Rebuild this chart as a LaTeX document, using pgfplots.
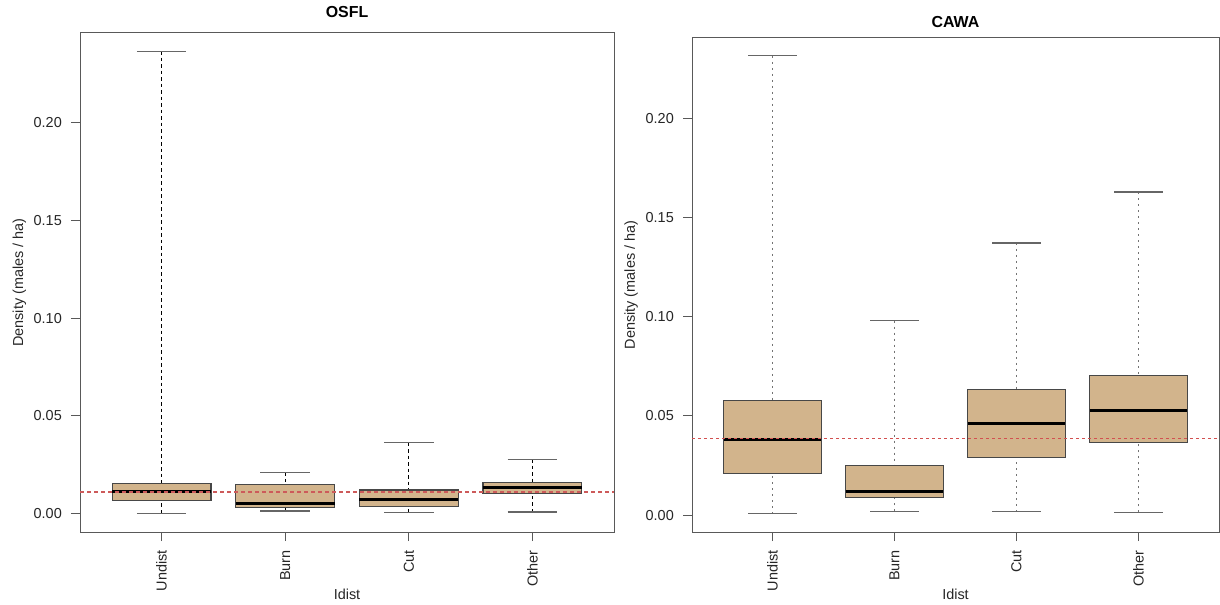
\documentclass[border=0pt]{standalone}
\usepackage{fontspec}
\setmainfont{Liberation Sans}
\usepackage{pgfplots}
\pgfplotsset{compat=1.18}
\usepgfplotslibrary{statistics}
\definecolor{tanfill}{RGB}{210,180,140}
\definecolor{refline}{RGB}{210,80,80}
\definecolor{reflineL}{RGB}{205,90,90}
\pgfplotsset{
  rbox/.style={
    scale only axis,
    tick align=outside,
    xtick pos=bottom, ytick pos=left,
    major tick length=9bp,
    every tick/.style={black!65, line width=0.9bp},
    axis line style={black!65, line width=1bp},
    xmin=0.34, xmax=4.66,
    xtick={1,2,3,4},
    xticklabels={Undist,Burn,Cut,Other},
    ytick={0,0.05,0.1,0.15,0.2},
    yticklabels={0.00,0.05,0.10,0.15,0.20},
    tick label style={font=\fontsize{14.5}{16}\selectfont, text=black!85, inner sep=0pt},
    x tick label style={rotate=90, anchor=east},
    xticklabel shift=9bp,
    yticklabel shift=9bp,
    label style={font=\fontsize{14.5}{16}\selectfont, text=black!85},
    title style={font=\bfseries\fontsize{16}{18}\selectfont, anchor=center},
    xlabel={Idist},
    ylabel={Density (males / ha)},
    boxplot/draw direction=y,
    boxplot/box extend=0.8,
    boxplot/whisker extend=0.4,
    boxplot/every box/.style={fill=tanfill, draw=black!72, line width=1.1bp},
    boxplot/every median/.style={draw=black, line width=3bp},
    boxplot/every cap/.style={draw=black!60, line width=1.3bp, solid},
    boxplot/draw/lower whisker/.code={%
      \draw[/pgfplots/boxplot/every whisker/.try]
        (boxplot box cs:\pgfplotsboxplotvalue{lower whisker},0.5) --
        (boxplot box cs:\pgfplotsboxplotvalue{lower quartile},0.5);
      \draw[/pgfplots/boxplot/every cap/.try]
        (boxplot whisker cs:\pgfplotsboxplotvalue{lower whisker},0) --
        (boxplot whisker cs:\pgfplotsboxplotvalue{lower whisker},1);
    },
    boxplot/draw/upper whisker/.code={%
      \draw[/pgfplots/boxplot/every whisker/.try]
        (boxplot box cs:\pgfplotsboxplotvalue{upper whisker},0.5) --
        (boxplot box cs:\pgfplotsboxplotvalue{upper quartile},0.5);
      \draw[/pgfplots/boxplot/every cap/.try]
        (boxplot whisker cs:\pgfplotsboxplotvalue{upper whisker},0) --
        (boxplot whisker cs:\pgfplotsboxplotvalue{upper whisker},1);
    },
  }
}
\begin{document}
\begin{tikzpicture}
\useasboundingbox (0,0) rectangle (1220bp,605bp);
% ---------------- OSFL ----------------
\begin{axis}[rbox,
  at={(80bp,73bp)}, anchor=south west,
  width=534bp, height=499bp,
  ymin=-0.0095, ymax=0.246,
  title={OSFL},
  title style={at={(axis description cs:0.5,1.030)}},
  xlabel style={at={(axis description cs:0.5,-0.1242)}, anchor=center},
  ylabel style={at={(axis description cs:-0.1133,0.5)}, anchor=center},
  boxplot/every whisker/.style={draw=black, line width=0.9bp, dash pattern=on 3.5bp off 3bp},
]
\addplot[boxplot prepared={draw position=1, lower whisker=0.0000, lower quartile=0.0065, median=0.0113, upper quartile=0.0155, upper whisker=0.2367}] coordinates {};
\addplot[boxplot prepared={draw position=2, lower whisker=0.0013, lower quartile=0.0031, median=0.0052, upper quartile=0.0146, upper whisker=0.0210}] coordinates {};
\addplot[boxplot prepared={draw position=3, lower whisker=0.0005, lower quartile=0.0035, median=0.0072, upper quartile=0.0120, upper whisker=0.0363}] coordinates {};
\addplot[boxplot prepared={draw position=4, lower whisker=0.0007, lower quartile=0.0103, median=0.0133, upper quartile=0.0160, upper whisker=0.0278}] coordinates {};
\addplot[color=reflineL, line width=1.6bp, dash pattern=on 3.5bp off 3.5bp] coordinates {(0.34,0.0111) (4.66,0.0111)};
\end{axis}
% ---------------- CAWA ----------------
\begin{axis}[rbox,
  at={(692bp,73bp)}, anchor=south west,
  width=527bp, height=494bp,
  ymin=-0.0085, ymax=0.2405,
  title={CAWA},
  title style={at={(axis description cs:0.5,1.0202)}},
  xlabel style={at={(axis description cs:0.5,-0.1255)}, anchor=center},
  ylabel style={at={(axis description cs:-0.1157,0.5)}, anchor=center},
  boxplot/every whisker/.style={draw=black!55, line width=1.1bp, dash pattern=on 2bp off 4bp},
]
\addplot[boxplot prepared={draw position=1, lower whisker=0.0008, lower quartile=0.0208, median=0.0380, upper quartile=0.0578, upper whisker=0.2315}] coordinates {};
\addplot[boxplot prepared={draw position=2, lower whisker=0.0019, lower quartile=0.0088, median=0.0118, upper quartile=0.0249, upper whisker=0.0981}] coordinates {};
\addplot[boxplot prepared={draw position=3, lower whisker=0.0017, lower quartile=0.0291, median=0.0460, upper quartile=0.0633, upper whisker=0.1372}] coordinates {};
\addplot[boxplot prepared={draw position=4, lower whisker=0.0014, lower quartile=0.0367, median=0.0527, upper quartile=0.0702, upper whisker=0.1628}] coordinates {};
\addplot[color=refline, line width=1bp, dash pattern=on 3bp off 3bp] coordinates {(0.34,0.0386) (4.66,0.0386)};
\end{axis}
\end{tikzpicture}
\end{document}
